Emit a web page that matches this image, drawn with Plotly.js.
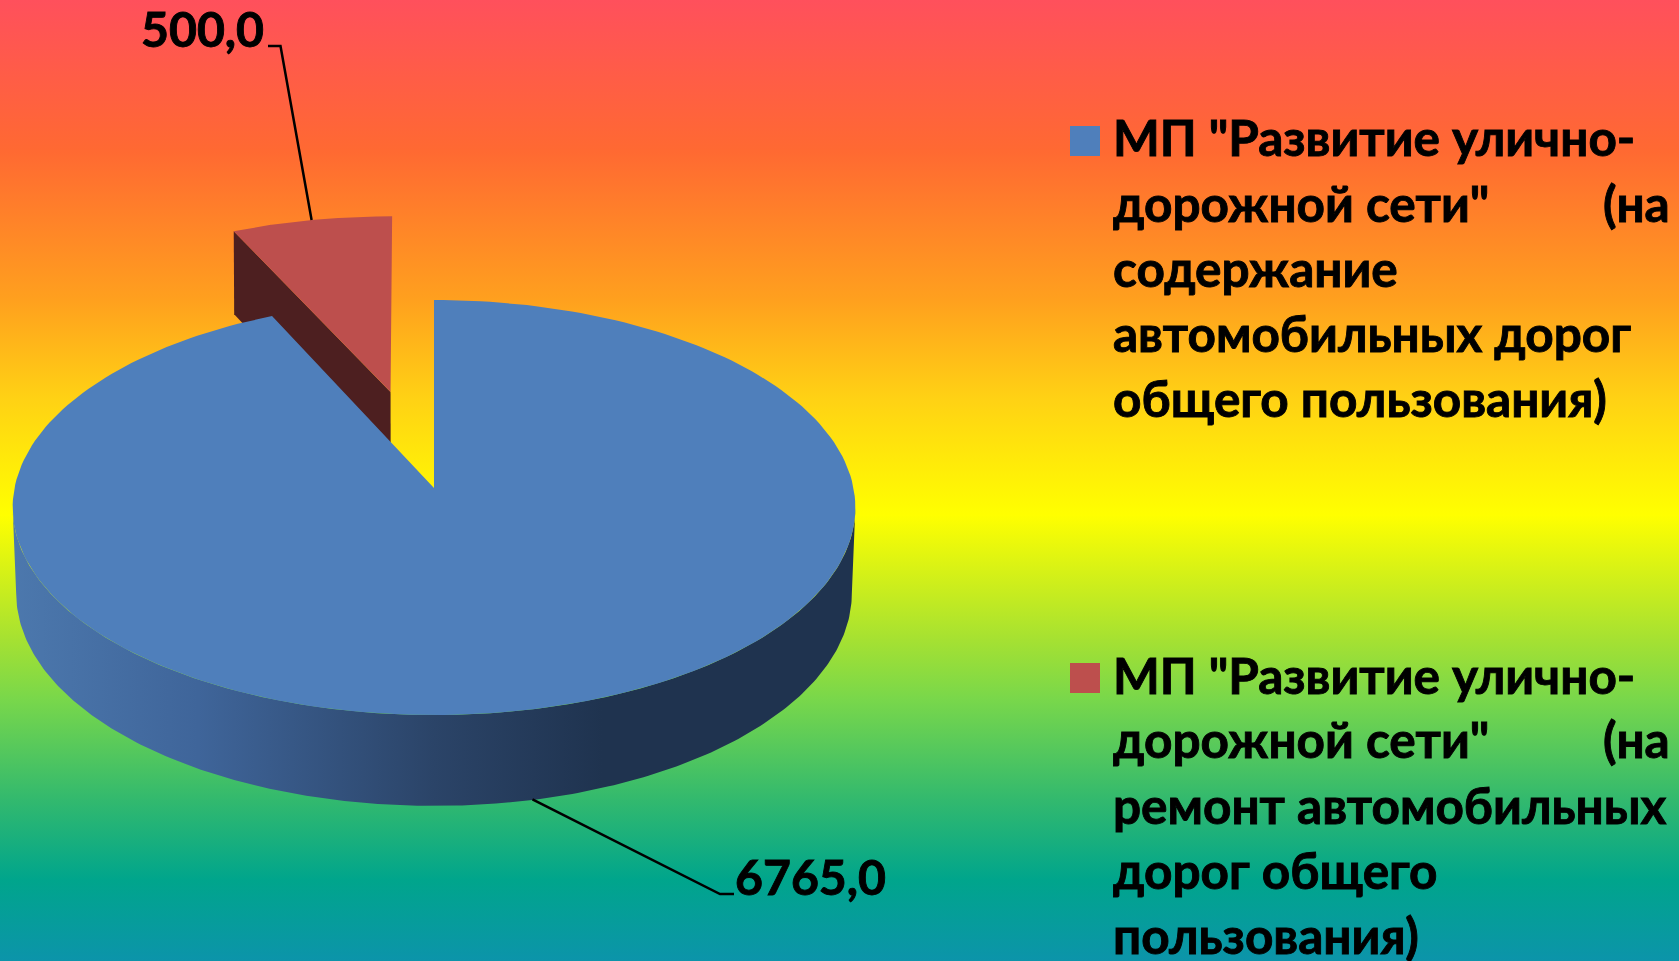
<!DOCTYPE html>
<html><head><meta charset="utf-8">
<script src="https://cdn.plot.ly/plotly-3.0.1.min.js"></script>
<style>
html,body{margin:0;padding:0;width:1679px;height:961px;overflow:hidden;
background:linear-gradient(to bottom,rgb(255,80,92) 0px,rgb(255,105,50) 150px,rgb(255,160,30) 300px,rgb(255,210,20) 400px,rgb(255,255,0) 515px,rgb(165,225,50) 640px,rgb(120,215,75) 700px,rgb(50,185,110) 800px,rgb(0,165,140) 880px,rgb(12,148,170) 961px);}
#chart{width:1679px;height:961px;}
.annotation-text{stroke:#000;stroke-width:0.9px;}
</style></head><body><div id="chart"></div>
<script>
const categories = ['МП "Развитие улично-дорожной сети" (на содержание автомобильных дорог общего пользования)',
                    'МП "Развитие улично-дорожной сети" (на ремонт автомобильных дорог общего пользования)'];
const values = [6765, 500];
const valueLabels = ['6765,0', '500,0'];
const topColors = ['#4f7fbb', '#bd4f4d'];
const legendLines = [
  ['МП "Развитие улично-', 'дорожной сети"', 'содержание', 'автомобильных дорог', 'общего пользования)'],
  ['МП "Развитие улично-', 'дорожной сети"', 'ремонт автомобильных', 'дорог общего', 'пользования)']
];

const FONT = 'Lato, "Noto Sans", sans-serif', FS = 49.5, FSV = 48.2;
const total = values.reduce((a, b) => a + b, 0);
const sweep = values.map(v => v / total * 2 * Math.PI);
const K = 0.094;
const topDisc = {cx: 434, cy: 488, a: 419.5, b: 205.7};
const botDisc = {cx: 434, cy: 573, a: 416, b: 211};
const redTopDisc = {cx: 431.5, cy: 488, a: 419, b: 205.7};
const redBotDisc = {cx: 431, cy: 579, a: 417, b: 212};
const redApexTop = {cx: 433.5, cy: 488, a: 419, b: 205.7};
const redApexBot = {cx: 433.5, cy: 579, a: 417, b: 212};
const proj = (d, u, v) => { const w = 1 + K * v; return [d.cx + d.a * u / w, d.cy - d.b * v / w]; };
// clockwise angle from 12 o'clock
const pt = (d, ang, du = 0, dv = 0, R = 1) => proj(d, R * Math.sin(ang) + du, R * Math.cos(ang) + dv);
const arc = (d, a0, a1, du = 0, dv = 0, R = 1) => {
  const n = 240, r = [];
  for (let i = 0; i <= n; i++) r.push(pt(d, a0 + (a1 - a0) * i / n, du, dv, R));
  return r;
};
const poly = (pts, extra) => Object.assign({
  type: 'scatter', mode: 'lines', x: pts.map(p => p[0]), y: pts.map(p => p[1]),
  fill: 'toself', line: {width: 0}, hoverinfo: 'skip', showlegend: false}, extra);

// Slice 1 starts at 12 o'clock; slice 2 fills the rest and is pulled out along its bisector.
const blueEnd = sweep[0];
const redMid = blueEnd + sweep[1] / 2;
const E = 0.5, eu = E * Math.sin(redMid), ev = E * Math.cos(redMid), RR = 1.02;
const blueTop = [proj(topDisc, 0, 0), ...arc(topDisc, 0, blueEnd)];
const redTop = [proj(redApexTop, eu, ev), ...arc(redTopDisc, blueEnd, 2 * Math.PI, eu, ev, RR)];
const redWall = [proj(redApexTop, eu, ev), pt(redTopDisc, blueEnd, eu, ev, RR), pt(redBotDisc, blueEnd, eu, ev, RR), proj(redApexBot, eu, ev)];
const ext = Math.asin(K);
const aL = Math.PI / 2 + ext, aR = 3 * Math.PI / 2 - ext;
const blueWall = [...arc(topDisc, aL, aR), ...arc(botDisc, aR, aL)];

const traces = [
  poly(redWall, {fillcolor: '#4d1f20'}),
  poly(redTop, {fillcolor: topColors[1], name: categories[1]}),
  poly(blueWall, {fillcolor: '#20344f', fillgradient: {type: 'horizontal', colorscale: [
    [0, '#4c78ad'], [0.22, '#3f659a'], [0.5, '#2b4468'], [0.70, '#1f334f'], [1, '#1f334f']]}}),
  poly(blueTop, {fillcolor: topColors[0], name: categories[0]}),
];

// Leader lines, anchored on the slices' rims
const redAnchor = proj(redTopDisc, eu + RR * Math.sin(redMid), ev + RR * Math.cos(redMid));
const lineStyle = {color: '#000', width: 2.5};
traces.push({type: 'scatter', mode: 'lines', x: [redAnchor[0], 280.5, 268], y: [redAnchor[1], 46, 46], line: lineStyle, hoverinfo: 'skip', showlegend: false});
const blueAnchor = proj(botDisc, 0.215, -0.975);
traces.push({type: 'scatter', mode: 'lines', x: [blueAnchor[0], 720, 734], y: [blueAnchor[1], 894, 894], line: lineStyle, hoverinfo: 'skip', showlegend: false});

// Legend swatches
const swatchY = [141, 678];
traces.push({type: 'scatter', mode: 'markers', x: [1085, 1085], y: swatchY,
  marker: {symbol: 'square', size: 30, color: topColors, line: {width: 0}}, hoverinfo: 'skip', showlegend: false});

const ann = (text, x, y, size, anchor = 'left') => ({text, x, y, xref: 'x', yref: 'y', xanchor: anchor, yanchor: 'middle',
  showarrow: false, font: {family: FONT, size, color: '#000', weight: 700}, align: anchor});
const annotations = [ann(valueLabels[1], 138.5, 28, FSV), ann(valueLabels[0], 732.5, 876, FSV)];
const baselines = [[155, 221, 286, 351, 416], [693, 757, 823, 888, 953]];
legendLines.forEach((lines, s) => {
  lines.forEach((t, i) => annotations.push(ann(t, 1111, baselines[s][i] - 18, FS)));
  annotations.push(ann('(на', 1672, baselines[s][1] - 18, FS, 'right'));
});

const layout = {
  width: 1679, height: 961, margin: {l: 0, r: 0, t: 0, b: 0},
  paper_bgcolor: 'rgba(0,0,0,0)', plot_bgcolor: 'rgba(0,0,0,0)', showlegend: false,
  xaxis: {range: [0, 1679], visible: false, fixedrange: true},
  yaxis: {range: [961, 0], visible: false, fixedrange: true},
  annotations
};
Plotly.newPlot('chart', traces, layout, {displayModeBar: false, staticPlot: true});
</script></body></html>
